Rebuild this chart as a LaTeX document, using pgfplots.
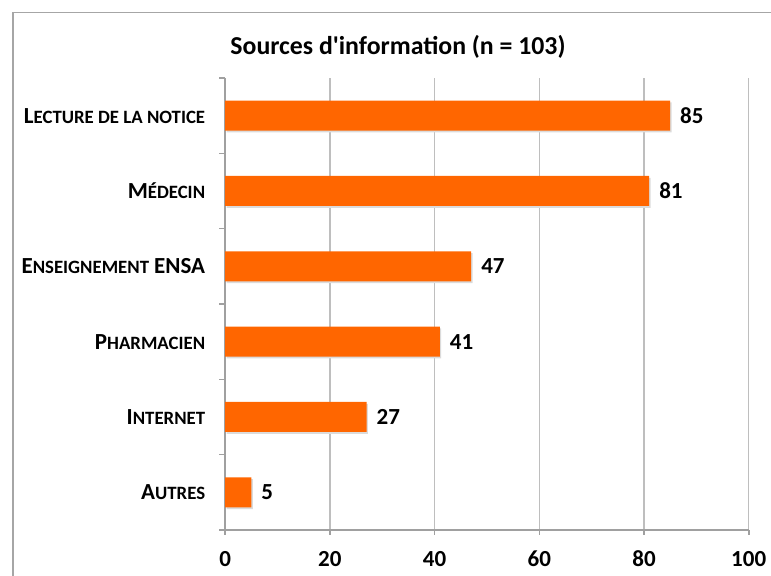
\documentclass[border=0pt]{standalone}
\usepackage{pgfplots}
\pgfplotsset{compat=1.18}
\usepackage{fontspec}
\setmainfont{Carlito}
\definecolor{barorange}{HTML}{FF6600}
\definecolor{framegray}{HTML}{A6A6A6}
\definecolor{gridgray}{HTML}{BEBEBE}
\definecolor{axisgray}{HTML}{A0A0A0}
% fake small caps, as in the Keynote labels
\newcommand{\smc}[1]{{\fontsize{9.4}{10}\selectfont #1}}

\begin{document}
\begin{tikzpicture}
\useasboundingbox (0,0) rectangle (385.5pt,288pt);
\draw[framegray, line width=0.8pt] (6.35pt,-5pt) -- (6.35pt,281.65pt) -- (395pt,281.65pt);
\node[font=\bfseries\fontsize{12.9}{15}\selectfont] at (199pt,264.5pt) {Sources d\textquotesingle information (n = 103)};
\begin{axis}[
    at={(112.6pt,23pt)}, anchor=south west,
    scale only axis, width=261.75pt, height=226pt,
    xmin=0, xmax=100, ymin=0.5, ymax=6.5,
    axis x line*=bottom, axis y line*=left,
    axis line style={axisgray, line width=0.8pt},
    xtick={0,20,...,100},
    ytick={1,...,6},
    yticklabels={{A\smc{UTRES}},{I\smc{NTERNET}},{P\smc{HARMACIEN}},{E\smc{NSEIGNEMENT} ENSA},{M\smc{ÉDECIN}},{L\smc{ECTURE DE LA NOTICE}}},
    minor ytick={0.5,1.5,...,6.5},
    tick align=outside,
    major tick length=2.5pt, minor tick length=3pt,
    tick style={axisgray, line width=0.8pt},
    major y tick style={draw=none},
    xmajorgrids,
    major grid style={gridgray, line width=0.7pt},
    /pgf/number format/assume math mode=true,
    xticklabel style={font=\bfseries\fontsize{11.5}{13}\selectfont, yshift=-4.5pt},
    yticklabel style={font=\bfseries\fontsize{11.5}{13}\selectfont, xshift=-4pt},
    clip=false,
]
% soft shadow under the bars
\addplot[xbar, bar width=15pt, bar shift=0pt, fill=black!14, draw=none, xshift=0.7pt, yshift=-0.9pt, forget plot]
    coordinates {(5,1) (27,2) (41,3) (47,4) (81,5) (85,6)};
\addplot[xbar, bar width=15pt, bar shift=0pt, fill=barorange, draw=none,
    nodes near coords,
    every node near coord/.append style={font=\bfseries\fontsize{11.5}{13}\selectfont, black, anchor=west, xshift=1.5pt}]
    coordinates {(5,1) (27,2) (41,3) (47,4) (81,5) (85,6)};
\end{axis}
\end{tikzpicture}
\end{document}
